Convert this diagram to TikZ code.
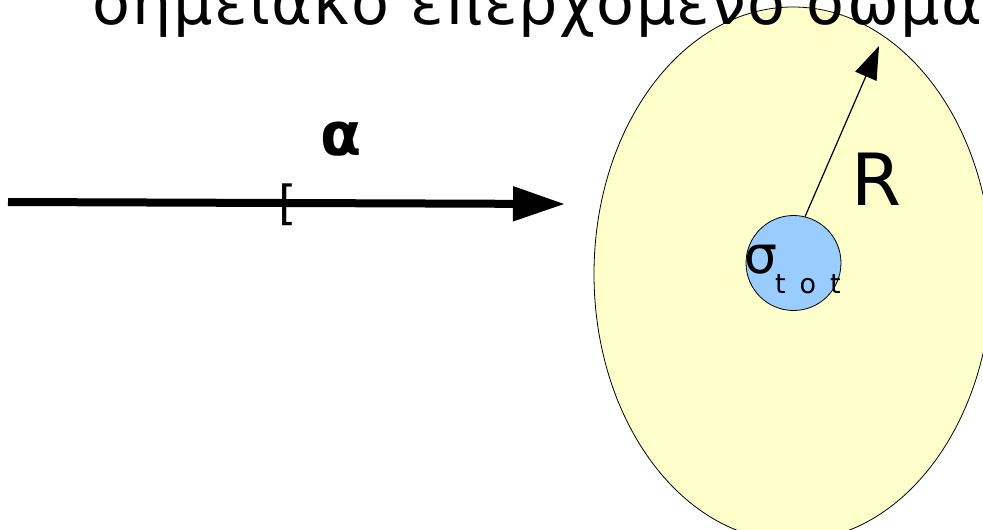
\documentclass[tikz,border=0pt]{standalone}
\usepackage{fontspec}
\setmainfont{DejaVu Sans}
\newfontfamily\titlefont[LetterSpace=2.2]{DejaVu Sans}
\newfontfamily\subfont[LetterSpace=20]{DejaVu Sans}
\usetikzlibrary{arrows.meta,shapes.geometric}
\definecolor{paleyellow}{HTML}{FFFFCC}
\definecolor{paleblue}{HTML}{99CCFF}
\begin{document}
\begin{tikzpicture}[x=1pt,y=-1pt,
  txt/.style={inner sep=0pt, outer sep=0pt},
  thinline/.style={draw=black, line width=0.8pt}]
\useasboundingbox (0,0) rectangle (983,530);
\clip (0,0) rectangle (983,530);
% large body
\node[ellipse, thinline, fill=paleyellow, minimum width=398pt, minimum height=534pt, inner sep=0pt] (body) at (793,274) {};
% small cross-section circle
\node[circle, thinline, fill=paleblue, minimum size=95pt, inner sep=0pt] (sig) at (793.5,263) {};
% title
\node[txt, font=\titlefont\fontsize{62}{62}\selectfont, anchor=base west] (title) at (92,24) {σημειακό επερχόμενο σώμα};
% sigma tot
\node[txt, font=\fontsize{52}{52}\selectfont, anchor=base west] (s) at (744,273) {σ};
\node[txt, font=\subfont\fontsize{27}{27}\selectfont, anchor=base west] (tot) at (775,293) {t o t};
% R
\node[txt, font=\fontsize{72}{72}\selectfont, anchor=base west] (R) at (851,205) {R};
\coordinate (rtip) at (879,46);
\draw[line width=1.2pt, -{Triangle[length=33pt,width=23pt]}] (sig.76) -- (rtip);
% incoming beam
\coordinate (start) at (8,202);
\coordinate (end) at (565,204);
\draw[line width=8pt, -{Triangle[length=52pt,width=33pt]}] (start) -- (end);
\node[txt, font=\fontsize{47}{47}\selectfont, anchor=base west] (br) at (278,219) {[};
\node[txt, font=\bfseries\fontsize{60}{60}\selectfont, anchor=base] (alpha) at (341,155) {α};
\end{tikzpicture}
\end{document}
